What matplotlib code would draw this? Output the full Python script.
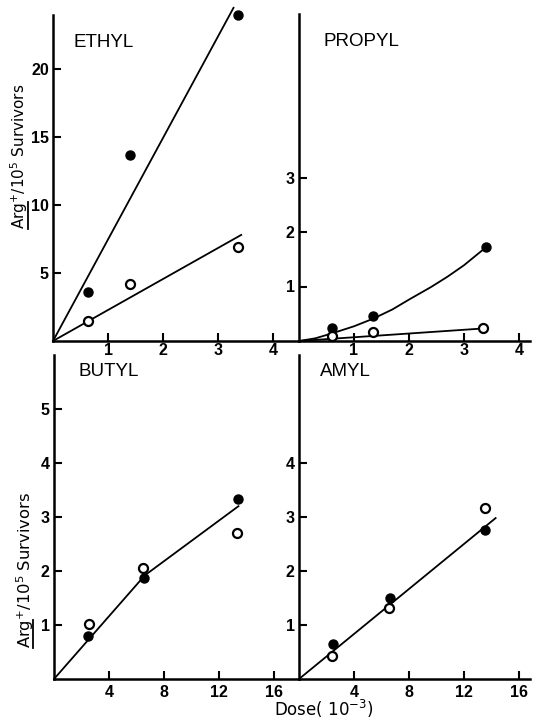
import matplotlib
matplotlib.use('Agg')
import matplotlib.pyplot as plt
from matplotlib.lines import Line2D

plt.rcParams['font.family'] = ['Liberation Sans', 'DejaVu Sans']
plt.rcParams['mathtext.fontset'] = 'dejavusans'

# ---------------- data ----------------
ethyl_x = [0.64, 1.40, 3.36]
ethyl_filled = [3.6, 13.7, 24.0]
ethyl_open = [1.47, 4.2, 6.9]
ethyl_filled_fit_x = [0, 3.28]
ethyl_filled_fit_y = [0, 24.5]
ethyl_open_fit_x = [0, 3.42]
ethyl_open_fit_y = [0, 7.8]

propyl_x = [0.6, 1.35, 3.4]
propyl_filled = [0.24, 0.46, 1.72]
propyl_open_x = [0.6, 1.35, 3.35]
propyl_open = [0.10, 0.16, 0.23]
propyl_curve_x = [0, 0.3, 0.6, 1.0, 1.35, 1.7, 2.0, 2.4, 2.7, 3.0, 3.4]
propyl_curve_y = [0, 0.05, 0.14, 0.27, 0.41, 0.58, 0.76, 0.99, 1.18, 1.39, 1.72]
propyl_open_fit_x = [0, 3.35]
propyl_open_fit_y = [0, 0.23]

butyl_x = [2.5, 6.55, 13.4]
butyl_filled = [0.80, 1.87, 3.33]
butyl_open_x = [2.55, 6.5, 13.3]
butyl_open = [1.02, 2.05, 2.70]
butyl_fit_x = [0, 6.6, 13.4]
butyl_fit_y = [0, 1.92, 3.2]

amyl_x = [2.5, 6.6, 13.5]
amyl_filled = [0.65, 1.50, 2.76]
amyl_open_x = [2.4, 6.55, 13.5]
amyl_open = [0.43, 1.31, 3.17]
amyl_fit_x = [0, 14.3]
amyl_fit_y = [0, 2.98]

top_xticks = [1, 2, 3, 4]
bottom_xticks = [4, 8, 12, 16]
ethyl_yticks = [5, 10, 15, 20]
propyl_yticks = [1, 2, 3]
butyl_yticks = [1, 2, 3, 4, 5]
amyl_yticks = [1, 2, 3, 4]

# ---------------- figure ----------------
W, H = 539, 720
fig = plt.figure(figsize=(W / 100, H / 100), dpi=100)


def rect(l, r, b, t):
    return [l / W, (H - b) / H, (r - l) / W, (b - t) / H]


def style(ax, xlim, ylim, xticks, yticks, name, namepos, xpad):
    ax.set_xlim(*xlim)
    ax.set_ylim(*ylim)
    for s in ['top', 'right']:
        ax.spines[s].set_visible(False)
    for s in ['left', 'bottom']:
        ax.spines[s].set_linewidth(1.8)
        ax.spines[s].set_color('black')
    ax.set_xticks(xticks)
    ax.set_yticks(yticks)
    ax.set_xticklabels([str(v) for v in xticks])
    ax.set_yticklabels([str(v) for v in yticks])
    ax.tick_params(direction='in', length=6, width=1.5, labelsize=11.5)
    ax.tick_params(axis='x', pad=xpad)
    ax.tick_params(axis='y', pad=3)
    for lab in ax.get_xticklabels() + ax.get_yticklabels():
        lab.set_fontweight('bold')
    ax.patch.set_alpha(0)
    ax.text(namepos[0], namepos[1], name, transform=ax.transAxes,
            fontsize=13.5, ha='left', va='center')


ms = 6.5
kw_f = dict(marker='o', ms=ms, mfc='black', mec='black', ls='none', zorder=5, clip_on=False)
kw_o = dict(marker='o', ms=ms, mfc='white', mec='black', mew=1.6, ls='none', zorder=5, clip_on=False)
kw_l = dict(color='black', lw=1.3, zorder=3, clip_on=False)

# Ethyl
ax1 = fig.add_axes(rect(53, 299, 341, 14.6))
ax1.plot(ethyl_filled_fit_x, ethyl_filled_fit_y, **kw_l)
ax1.plot(ethyl_open_fit_x, ethyl_open_fit_y, **kw_l)
ax1.plot(ethyl_x, ethyl_filled, **kw_f)
ax1.plot(ethyl_x, ethyl_open, **kw_o)
style(ax1, (0, 4.47), (0, 24), top_xticks, ethyl_yticks, 'ETHYL', (0.085, 0.915), 1.5)

# Propyl
ax2 = fig.add_axes(rect(299, 530, 341, 14))
ax2.plot(propyl_curve_x, propyl_curve_y, **kw_l)
ax2.plot(propyl_open_fit_x, propyl_open_fit_y, **kw_l)
ax2.plot(propyl_x, propyl_filled, **kw_f)
ax2.plot(propyl_open_x, propyl_open, **kw_o)
style(ax2, (0, 4.2), (0, 6), top_xticks, propyl_yticks, 'PROPYL', (0.105, 0.915), 1.5)

# Butyl
ax3 = fig.add_axes(rect(54, 299, 679, 355))
ax3.plot(butyl_fit_x, butyl_fit_y, **kw_l)
ax3.plot(butyl_x, butyl_filled, **kw_f)
ax3.plot(butyl_open_x, butyl_open, **kw_o)
style(ax3, (0, 17.8), (0, 6), bottom_xticks, butyl_yticks, 'BUTYL', (0.1, 0.95), 4)

# Amyl
ax4 = fig.add_axes(rect(299, 530, 679, 355))
ax4.plot(amyl_fit_x, amyl_fit_y, **kw_l)
ax4.plot(amyl_x, amyl_filled, **kw_f)
ax4.plot(amyl_open_x, amyl_open, **kw_o)
style(ax4, (0, 16.8), (0, 6), bottom_xticks, amyl_yticks, 'AMYL', (0.09, 0.95), 4)

renderer = fig.canvas.get_renderer()


def text_width(s, size, fam):
    t = fig.text(0, 0, s, fontsize=size, family=fam)
    w = t.get_window_extent(renderer).width
    t.remove()
    return w


lab_font = ['DejaVu Sans']
ylab = r'Arg$^{+}$/10$^{5}$ Survivors'
# (baseline x, centre y, font size) in pixels from top-left
for bx, cy, size in [(25.5, 156, 11), (31, 570, 11.8)]:
    L = text_width(ylab, size, lab_font)
    fig.text(bx / W, 1 - cy / H, ylab, rotation=90, rotation_mode='anchor',
             fontsize=size, family=lab_font, ha='center', va='baseline')
    aw = text_width('Arg', size, lab_font)
    y0 = (H - cy) - L / 2
    ux = bx + 2.0
    fig.add_artist(Line2D([ux / W, ux / W], [y0 / H, (y0 + aw) / H],
                          transform=fig.transFigure, color='black', lw=1.3))

xlab = r'Dose( 10$^{-3}$)'
fig.text(324 / W, 1 - 716.5 / H, xlab, fontsize=12, family=lab_font,
         ha='center', va='baseline')

fig.savefig('out.png', dpi=100)
